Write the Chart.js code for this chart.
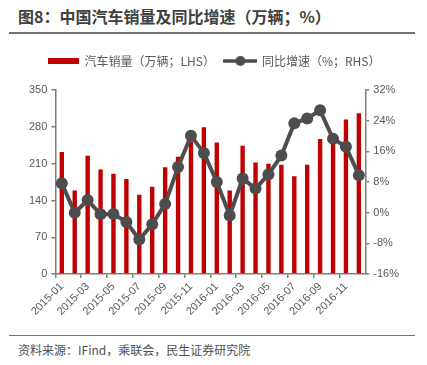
<!DOCTYPE html>
<html><head><meta charset="utf-8">
<script src="https://cdn.jsdelivr.net/npm/chart.js@4.4.1/dist/chart.umd.min.js"></script>
<style>
html,body{margin:0;padding:0;background:#fff;width:427px;height:365px;overflow:hidden;font-family:"Noto Sans CJK SC","Liberation Sans",sans-serif;}
#title{position:absolute;left:18px;top:4px;font-size:16px;font-weight:bold;color:#404040;white-space:nowrap;}
#l1{position:absolute;left:9px;top:32px;width:406px;height:2px;background:#737373;}
#l2{position:absolute;left:9px;top:335px;width:406px;height:1px;background:#737373;}
#src{position:absolute;left:18px;top:341px;font-size:12px;color:#505050;white-space:nowrap;}
#wrap{position:absolute;left:0;top:36px;width:427px;height:298px;}
</style></head>
<body>
<div id="title">图8：中国汽车销量及同比增速（万辆；%）</div>
<div id="l1"></div>
<div id="wrap"><canvas id="c"></canvas></div>
<div id="l2"></div>
<div id="src">资料来源：IFind，乘联会，民生证券研究院</div>
<script>
const categories = ["2015-01","2015-02","2015-03","2015-04","2015-05","2015-06","2015-07","2015-08","2015-09","2015-10","2015-11","2015-12",
"2016-01","2016-02","2016-03","2016-04","2016-05","2016-06","2016-07","2016-08","2016-09","2016-10","2016-11","2016-12"];
const sales = [232,159,225,199,191,181,151,166,203,223,252,279,250,159,244,212,210,208,186,208,257,263,294,306];
const yoy = [7.7,0.0,3.3,-0.4,-0.3,-2.4,-7.0,-3.0,2.3,11.9,20.1,15.6,8.0,-0.7,8.9,6.3,10.0,14.9,23.3,24.6,26.7,19.3,17.2,9.8];
const leftTicks = [0,70,140,210,280,350];
const rightTicks = [-16,-8,0,8,16,24,32];
const salesLabel = "汽车销量（万辆；LHS）";
const yoyLabel = "同比增速（%；RHS）";

const RED = "#c00000", GREY = "#4d4d4d", TXT = "#595959", AX = "#7f7f7f";

function swatchBar(){const c=document.createElement('canvas');c.width=31;c.height=6;const x=c.getContext('2d');x.fillStyle=RED;x.fillRect(0,0,31,6);return c;}
function swatchLine(){const c=document.createElement('canvas');c.width=34;c.height=12;const x=c.getContext('2d');x.strokeStyle=GREY;x.lineWidth=3.5;x.beginPath();x.moveTo(0,6);x.lineTo(34,6);x.stroke();x.fillStyle=GREY;x.beginPath();x.arc(17,6,5,0,Math.PI*2);x.fill();return c;}

Chart.defaults.font.family = '"Liberation Sans", "Noto Sans CJK SC", sans-serif';
Chart.defaults.color = TXT;

const legendSpace = {
  id:'legendSpace',
  beforeInit(chart){
    const orig = chart.legend.fit;
    chart.legend.fit = function(){ orig.call(this); this.height += 13; };
  }
};

new Chart(document.getElementById('c'), {
  data: {
    labels: categories,
    datasets: [
      {type:'line', label: yoyLabel, data: yoy, yAxisID:'y2', borderColor:GREY, backgroundColor:GREY, borderWidth:4,
       pointRadius:6, pointBackgroundColor:GREY, pointBorderWidth:0, tension:0, order:0},
      {type:'bar', label: salesLabel, data: sales, yAxisID:'y', backgroundColor:RED, barPercentage:0.34, categoryPercentage:1, order:1}
    ]
  },
  plugins:[legendSpace],
  options: {
    responsive:true, maintainAspectRatio:false, animation:false,
    layout:{padding:{left:25,right:24,top:9,bottom:14}},
    plugins:{
      legend:{position:'top', labels:{
        usePointStyle:true, pointStyleWidth:31, font:{size:12, family:'"Noto Sans CJK SC", sans-serif'}, color:TXT, padding:10,
        generateLabels(chart){
          return [
            {text:salesLabel, pointStyle:swatchBar(), fillStyle:RED, strokeStyle:RED, lineWidth:0, datasetIndex:1, fontColor:TXT},
            {text:yoyLabel, pointStyle:swatchLine(), fillStyle:GREY, strokeStyle:GREY, lineWidth:0, datasetIndex:0, fontColor:TXT}
          ];
        }
      }},
      tooltip:{enabled:false}
    },
    scales:{
      x:{offset:true,
        grid:{offset:true, drawOnChartArea:false, drawTicks:true, tickLength:4, lineWidth:1.5,
          color:(ctx)=> (ctx.index % 2 === 0 ? AX : 'rgba(0,0,0,0)')},
        border:{color:AX, width:1.5},
        ticks:{autoSkip:false, maxRotation:45, minRotation:45, font:{size:11}, color:TXT, padding:2,
          callback:(v,i)=> (i%2===0 ? categories[i] : '')}
      },
      y:{position:'left', min:0, max:350, afterBuildTicks:(s)=>{s.ticks=leftTicks.map(v=>({value:v}));},
        grid:{drawOnChartArea:false, tickLength:4, color:AX, lineWidth:1.5},
        border:{color:AX, width:1.5},
        ticks:{font:{size:11}, color:TXT, padding:4}
      },
      y2:{position:'right', min:-16, max:32, afterBuildTicks:(s)=>{s.ticks=rightTicks.map(v=>({value:v}));},
        grid:{drawOnChartArea:false, tickLength:4, color:AX, lineWidth:1.5},
        border:{color:AX, width:1.5},
        ticks:{font:{size:11}, color:TXT, padding:4, callback:(v)=> v+'%'}
      }
    }
  }
});
</script>
</body></html>
